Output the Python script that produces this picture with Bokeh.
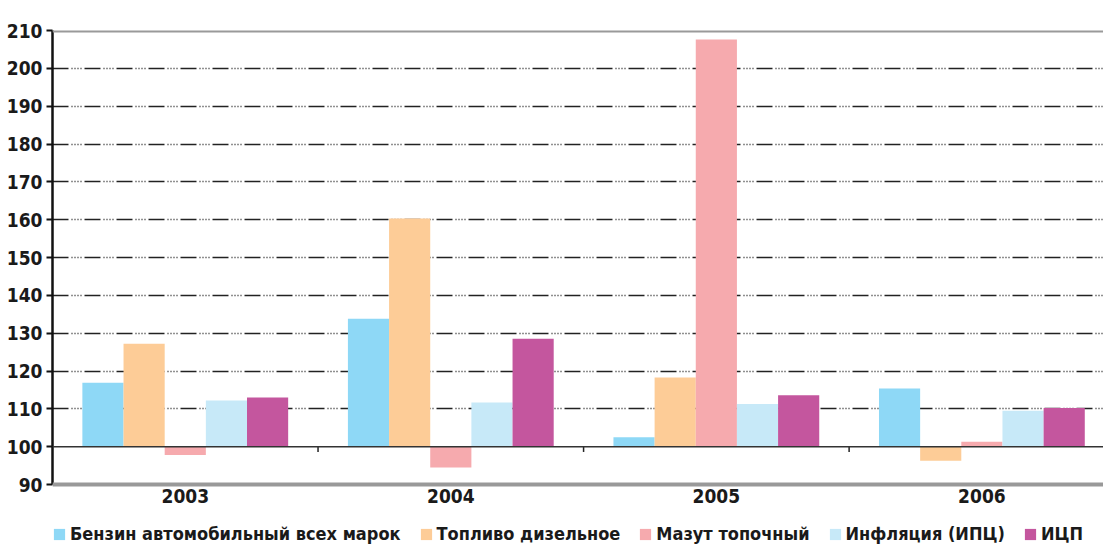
from bokeh.plotting import figure
from bokeh.models import (Range1d, FixedTicker, Span, Legend, LegendItem, LinearAxis)
from bokeh.core.properties import value
from bokeh.embed import file_html
from bokeh.resources import INLINE

years = ["2003", "2004", "2005", "2006"]
series_names = ["Бензин автомобильный всех марок", "Топливо дизельное",
                "Мазут топочный", "Инфляция (ИПЦ)", "ИЦП"]
benzin = [116.9, 133.8, 102.5, 115.4]
diesel = [127.2, 160.3, 118.3, 96.3]
mazut = [97.8, 94.5, 207.6, 101.3]
inflation = [112.2, 111.7, 111.3, 109.5]
icp = [113.0, 128.5, 113.6, 110.2]
y_ticks = list(range(90, 211, 10))
colors = ["#8ED8F6", "#FDCC97", "#F6AAAE", "#C7E9F8", "#C4569E"]
series = [benzin, diesel, mazut, inflation, icp]

FONT = "DejaVu Sans Condensed"
base = 100
n = len(years)
bar_w = 0.155
ymin, ymax = 90, 210
# frame extends below the axis bottom so that labels/legend sit inside it
px_per_unit = 454 / (ymax - ymin)
y_start = ymin - 64 / px_per_unit

p = figure(width=1103, height=548, output_backend="svg", toolbar_location=None,
           x_range=Range1d(0, 3.958), y_range=Range1d(y_start, ymax),
           x_axis_location=None, y_axis_location=None,
           min_border_left=52, min_border_right=0, min_border_top=30,
           min_border_bottom=0, background_fill_color="white",
           border_fill_color="white", outline_line_color=None)

yax = LinearAxis(ticker=FixedTicker(ticks=y_ticks), bounds=(ymin, ymax))
yax.axis_line_color = "#111111"
yax.axis_line_width = 2.5
yax.major_tick_line_color = "#111111"
yax.major_tick_line_width = 2
yax.major_tick_out = 6
yax.major_tick_in = 0
yax.minor_tick_line_color = None
yax.major_label_text_font = FONT
yax.major_label_text_font_style = "bold"
yax.major_label_text_font_size = "19px"
yax.major_label_text_color = "#1a1a1a"
yax.major_label_standoff = 4
p.add_layout(yax, "left")

p.xgrid.visible = False
p.ygrid.ticker = FixedTicker(ticks=[t for t in y_ticks if 100 < t < 210])
p.ygrid.grid_line_color = "#222222"
p.ygrid.grid_line_width = 1.7
p.ygrid.grid_line_dash = "16 3 1 2 1 2 1 2 1 3"

items = []
for k, (vals, col, name) in enumerate(zip(series, colors, series_names)):
    xs = [i + 0.5 + (k - 2) * bar_w for i in range(n)]
    r = p.vbar(x=xs, width=bar_w, bottom=base, top=vals, fill_color=col,
               line_color=None)
    items.append(LegendItem(label=name, renderers=[r]))

p.add_layout(Span(location=base, dimension="width", line_color="#333333",
                  line_width=1.5))
p.add_layout(Span(location=ymax, dimension="width", line_color="#9a9a9a",
                  line_width=4))
p.add_layout(Span(location=ymin, dimension="width", line_color="#999999",
                  line_width=4))
p.segment(x0=[i for i in range(1, n)], x1=[i for i in range(1, n)],
          y0=[base] * (n - 1), y1=[base - 1.4] * (n - 1),
          line_color="#222222", line_width=1.5)

p.text(x=[i + 0.5 for i in range(n)], y=[ymin] * n, text=years,
       text_font=value(FONT), text_font_style="bold", text_font_size="19px",
       text_color="#1a1a1a", text_align="center", text_baseline="top",
       y_offset=4)

legend = Legend(items=items, orientation="horizontal", location=(0, 4),
                glyph_width=14, glyph_height=14, label_standoff=4, spacing=18,
                padding=0, margin=0, border_line_color=None,
                background_fill_alpha=0,
                label_text_font=FONT, label_text_font_style="bold",
                label_text_font_size="18px", label_text_color="#1a1a1a",
                label_height=14)
p.add_layout(legend, "center")

open("out.html", "w").write(file_html(p, INLINE))
